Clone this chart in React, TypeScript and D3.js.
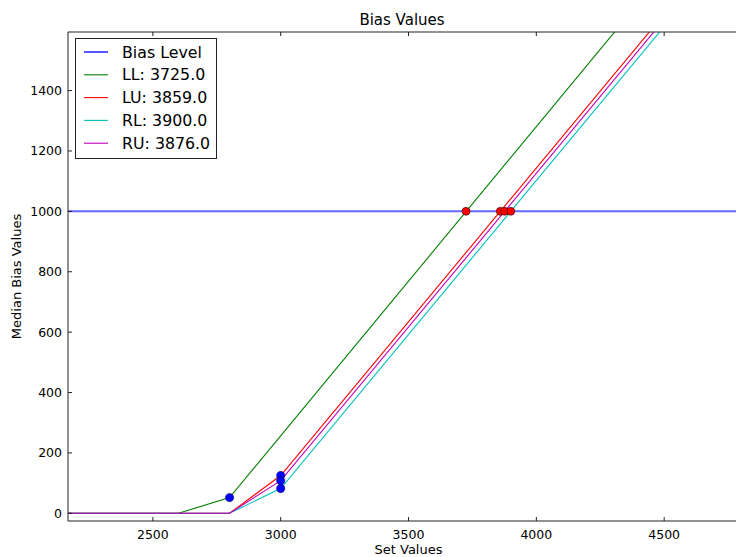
import * as d3 from 'd3'

// axis limits (right side of the figure is cropped)
const xLimits = [2168, 4781]
const yLimits = [-25.5, 1594]
const xTicks = [2500, 3000, 3500, 4000, 4500]
const yTicks = [0, 200, 400, 600, 800, 1000, 1200, 1400]

const biasLevel = 1000

const llSet = [2100, 2600, 2800, 4600]
const llBias = [0, 0, 52, 1895]
const luSet = [2100, 2800, 3000, 4600]
const luBias = [0, 0, 125, 1755]
const rlSet = [2100, 2800, 3000, 4600]
const rlBias = [0, 0, 82, 1714]
const ruSet = [2100, 2800, 3000, 4600]
const ruBias = [0, 0, 108, 1737]

// measured points (blue) and crossings of the bias level (red)
const measuredSet = [2800, 3000, 3000, 3000]
const measuredBias = [52, 125, 108, 82]
const crossingSet = [3725, 3859, 3876, 3900]

const legendLabels = ['Bias Level', 'LL: 3725.0', 'LU: 3859.0', 'RL: 3900.0', 'RU: 3876.0']
const legendColors = ['#5555ff', '#008000', '#ff0000', '#00bfbf', '#bf00bf']

const W = 736
const H = 557
const left = 68
const top = 32
const right = 736
const bottom = 521
const font = 'DejaVu Sans, sans-serif'

export default function App() {
  const x = d3.scaleLinear().domain(xLimits).range([left, right])
  const y = d3.scaleLinear().domain(yLimits).range([bottom, top])
  const line = d3.line<[number, number]>().x((d) => x(d[0])).y((d) => y(d[1]))

  const series = [
    { xs: llSet, ys: llBias, color: '#008000' },
    { xs: luSet, ys: luBias, color: '#ff0000' },
    { xs: rlSet, ys: rlBias, color: '#00bfbf' },
    { xs: ruSet, ys: ruBias, color: '#bf00bf' },
  ]

  return (
    <svg width={W} height={H} style={{ position: 'absolute', left: 0, top: 0, background: '#fff' }} fontFamily={font}>
      <defs>
        <clipPath id="plot">
          <rect x={left} y={top} width={right - left} height={bottom - top} />
        </clipPath>
      </defs>
      <rect x={0} y={0} width={W} height={H} fill="#fff" />
      <g clipPath="url(#plot)">
        <line x1={left} x2={right} y1={y(biasLevel)} y2={y(biasLevel)} stroke="#0000ff" strokeOpacity={0.6} strokeWidth={2} />
        {series.map((s, i) => (
          <path key={i} d={line(s.xs.map((v, j) => [v, s.ys[j]] as [number, number])) || ''} fill="none" stroke={s.color} strokeWidth={1.1} />
        ))}
        {measuredSet.map((v, i) => (
          <circle key={'m' + i} cx={x(v)} cy={y(measuredBias[i])} r={4.2} fill="#0000ff" stroke="#000" strokeWidth={0.4} />
        ))}
        {crossingSet.map((v, i) => (
          <circle key={'c' + i} cx={x(v)} cy={y(biasLevel)} r={4} fill="#ff0000" stroke="#000" strokeWidth={0.5} />
        ))}
      </g>
      {/* spines */}
      <line x1={left} x2={right} y1={top} y2={top} stroke="#222" />
      <line x1={left} x2={right} y1={bottom} y2={bottom} stroke="#222" />
      <line x1={left} x2={left} y1={top} y2={bottom} stroke="#222" />
      {/* ticks */}
      {xTicks.map((t) => (
        <g key={'x' + t}>
          <line x1={x(t)} x2={x(t)} y1={bottom} y2={bottom - 4} stroke="#222" />
          <line x1={x(t)} x2={x(t)} y1={top} y2={top + 4} stroke="#222" />
          <text x={x(t)} y={bottom + 18} fontSize={12.5} textAnchor="middle" fill="#000">{t}</text>
        </g>
      ))}
      {yTicks.map((t) => (
        <g key={'y' + t}>
          <line x1={left} x2={left + 4} y1={y(t)} y2={y(t)} stroke="#222" />
          <text x={left - 6} y={y(t)} dy="0.35em" fontSize={12.5} textAnchor="end" fill="#000">{t}</text>
        </g>
      ))}
      <text x={(left + right) / 2} y={25} fontSize={15} textAnchor="middle" fill="#000">Bias Values</text>
      <text x={x(3500)} y={554} fontSize={13} textAnchor="middle" fill="#000">Set Values</text>
      <text transform={`translate(21,${(top + bottom) / 2}) rotate(-90)`} fontSize={13} textAnchor="middle" fill="#000">Median Bias Values</text>
      {/* legend */}
      <g>
        <rect x={75.5} y={38.5} width={141} height={120} fill="#fff" stroke="#222" />
        {legendLabels.map((lab, i) => (
          <g key={lab} transform={`translate(0,${52 + i * 22.8})`}>
            <line x1={84} x2={108} y1={0} y2={0} stroke={legendColors[i]} strokeWidth={i === 0 ? 2 : 1.1} />
            <text x={122} y={0} dy="0.35em" fontSize={15.8} fill="#000">{lab}</text>
          </g>
        ))}
      </g>
    </svg>
  )
}
